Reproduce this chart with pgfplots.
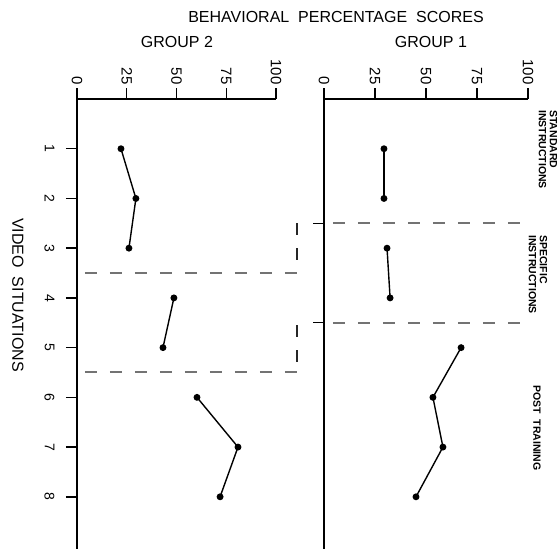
\documentclass[border=0pt]{standalone}
\usepackage{fontspec}
\setmainfont{Liberation Sans}
\usepackage{pgfplots}
\pgfplotsset{compat=1.18}
\begin{document}
\begin{tikzpicture}
\useasboundingbox (0pt,0pt) rectangle (560pt,-549pt);
\pgfplotsset{
  panel/.style={
    scale only axis, clip=false,
    xmin=0, xmax=100, ymin=0, ymax=9.05,
    y dir=reverse,
    height=450pt,
    axis x line*=top,
    axis y line*=left,
    x axis line style={-, line width=1.3pt},
    y axis line style={-, line width=2.2pt},
    xtick={0,25,50,75,100},
    tick align=outside,
    major tick length=11pt,
    tick style={black, line width=1.4pt},
    /pgf/number format/assume math mode=true,
    xticklabel style={rotate=-90, anchor=east, font=\fontsize{15}{18}\selectfont},
    yticklabel style={rotate=-90, anchor=north, font=\fontsize{14}{17}\selectfont},
    yticklabel shift=8pt,
  },
  dataline/.style={black, line width=1.4pt, mark=*, mark size=2.7pt, mark options={solid}},
  phase/.style={black!55, line width=2pt, dash pattern=on 12pt off 13pt, no marks},
  step/.style={black!85, line width=1.7pt, dash pattern=on 12pt off 13pt, no marks},
}
% GROUP 2
\begin{axis}[panel, at={(176.5pt,-324pt)}, anchor=center, width=199pt,
  ytick={1,2,3,4,5,6,7,8}]
  \addplot[dataline] coordinates {(22.1,1) (29.6,2) (26.1,3)};
  \addplot[dataline] coordinates {(48.7,4) (43.2,5)};
  \addplot[dataline] coordinates {(60.3,6) (80.9,7) (71.9,8)};
  \addplot[phase] coordinates {(4,3.5) (110.5,3.5)};
  \addplot[phase] coordinates {(4,5.5) (110.5,5.5)};
  \addplot[step] coordinates {(110.5,2.5) (110.5,3.5)};
  \addplot[step] coordinates {(110.5,4.55) (110.5,5.5)};
\end{axis}
% GROUP 1
\begin{axis}[panel, at={(426pt,-324pt)}, anchor=center, width=204pt,
  ytick={2.5,4.5}, yticklabels={}, y axis line style={-, line width=2.6pt}]
  \addplot[dataline] coordinates {(29.4,1) (29.4,2)};
  \addplot[dataline] coordinates {(30.9,3) (32.4,4)};
  \addplot[dataline] coordinates {(67.2,5) (53.4,6) (58.3,7) (45.1,8)};
  \addplot[phase] coordinates {(4.4,2.5) (97.5,2.5)};
  \addplot[phase] coordinates {(4.4,4.5) (97.5,4.5)};
\end{axis}
% titles and labels
\node[font=\fontsize{16}{19}\selectfont] at (336pt,-17pt) {BEHAVIORAL\ \ PERCENTAGE\ \ SCORES};
\node[font=\fontsize{16}{19}\selectfont] at (177pt,-42pt) {GROUP 2};
\node[font=\fontsize{16}{19}\selectfont] at (431pt,-42pt) {GROUP 1};
\node[font=\fontsize{16}{19}\selectfont, rotate=-90] at (18pt,-295pt) {VIDEO\ \ SITUATIONS};
\node[font=\fontsize{10.5}{11}\selectfont\bfseries, rotate=-90, align=left, anchor=west, inner sep=0pt] at (548pt,-110pt) {STANDARD\\INSTRUCTIONS};
\node[font=\fontsize{10.5}{11}\selectfont\bfseries, rotate=-90, align=left, anchor=west, inner sep=0pt] at (538pt,-235pt) {SPECIFIC\\INSTRUCTIONS};
\node[font=\fontsize{10.5}{11}\selectfont\bfseries, rotate=-90, anchor=west, inner sep=0pt] at (537pt,-385pt) {POST\ \ TRAINING};
\end{tikzpicture}
\end{document}
